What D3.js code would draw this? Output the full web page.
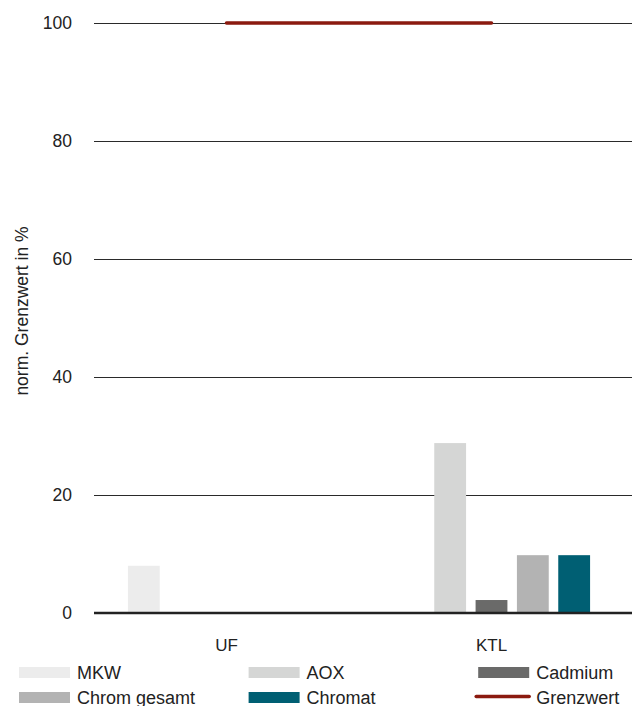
<!DOCTYPE html>
<html lang="de">
<head>
    <meta charset="UTF-8">
    <title>Grenzwerte UF / KTL</title>
    <script src="https://d3js.org/d3.v7.min.js"></script>
    <style>
        body { margin: 0; background: #fff; font-family: "Liberation Sans", Arial, sans-serif; }
        .tick-label { font-size: 17.5px; fill: #222; }
        .lbl { fill: #222; }
        .grid { shape-rendering: crispEdges; }
    </style>
</head>
<body>
    <svg id="chart" width="632" height="706"></svg>
    <script>
        const categories = ["UF", "KTL"];
        const series = ["MKW", "AOX", "Cadmium", "Chrom gesamt", "Chromat"];
        const colors = ["#ececec", "#d5d6d5", "#6a6a69", "#b3b3b3", "#005f73"];
        const values = {
            "UF":  [8, 0, 0, 0, 0],
            "KTL": [0, 28.8, 2.2, 9.8, 9.8]
        };
        const grenzwert = [100, 100];
        const yTicks = [0, 20, 40, 60, 80, 100];

        const svg = d3.select("#chart");

        const x0 = d3.scaleBand().domain(categories).range([94, 624])
                     .paddingInner(0.256).paddingOuter(0.128);
        const x1 = d3.scaleBand().domain(series).range([0, x0.bandwidth()])
                     .paddingInner(0.23).paddingOuter(0);
        const y = d3.scaleLinear().domain([0, 100]).range([613, 23]);

        // gridlines
        svg.append("g").selectAll("line")
           .data(yTicks.filter(d => d > 0))
           .enter().append("line")
           .attr("class", "grid")
           .attr("x1", 94).attr("x2", 632)
           .attr("y1", d => y(d)).attr("y2", d => y(d))
           .attr("stroke", "#2a2a2a").attr("stroke-width", 1);

        // tick labels
        svg.append("g").selectAll("text")
           .data(yTicks)
           .enter().append("text")
           .attr("class", "tick-label")
           .attr("x", 72)
           .attr("y", d => y(d))
           .attr("dy", "0.35em")
           .attr("text-anchor", "end")
           .text(d => d);

        // bars
        const groups = svg.append("g").selectAll("g")
           .data(categories)
           .enter().append("g")
           .attr("transform", d => `translate(${x0(d)},0)`);

        groups.selectAll("rect")
           .data(c => series.map((s, i) => ({s: s, v: values[c][i], c: colors[i]})).filter(d => d.v > 0))
           .enter().append("rect")
           .attr("x", d => x1(d.s))
           .attr("y", d => y(d.v))
           .attr("width", x1.bandwidth())
           .attr("height", d => y(0) - y(d.v))
           .attr("fill", d => d.c);

        // zero axis
        svg.append("line")
           .attr("x1", 94).attr("x2", 632)
           .attr("y1", y(0)).attr("y2", y(0))
           .attr("stroke", "#222").attr("stroke-width", 2.5);

        // Grenzwert line
        const line = d3.line()
           .x((d, i) => x0(categories[i]) + x0.bandwidth() / 2)
           .y(d => y(d));
        svg.append("path")
           .datum(grenzwert)
           .attr("d", line)
           .attr("fill", "none")
           .attr("stroke", "#8b1a0f")
           .attr("stroke-width", 3.5)
           .attr("stroke-linecap", "round");

        // category labels
        svg.append("g").selectAll("text")
           .data(categories)
           .enter().append("text")
           .attr("class", "lbl")
           .attr("x", d => x0(d) + x0.bandwidth() / 2)
           .attr("y", 651)
           .attr("text-anchor", "middle")
           .attr("font-size", 17)
           .text(d => d);

        // y axis title
        svg.append("text")
           .attr("class", "lbl")
           .attr("transform", "translate(28,311) rotate(-90)")
           .attr("text-anchor", "middle")
           .attr("font-size", 17.5)
           .text("norm. Grenzwert in %");

        // legend
        const legendItems = series.map((s, i) => ({name: s, color: colors[i], type: "rect"}))
              .concat([{name: "Grenzwert", color: "#8b1a0f", type: "line"}]);
        const legend = svg.append("g").selectAll("g")
           .data(legendItems)
           .enter().append("g")
           .attr("transform", (d, i) => `translate(${19 + (i % 3) * 229.6},${i < 3 ? 667 : 692})`);

        legend.filter(d => d.type === "rect").append("rect")
           .attr("width", 51).attr("height", 11)
           .attr("fill", d => d.color);
        legend.filter(d => d.type === "line").append("line")
           .attr("x1", -2).attr("x2", 51).attr("y1", 4.5).attr("y2", 4.5)
           .attr("stroke", d => d.color).attr("stroke-width", 3.5)
           .attr("stroke-linecap", "round");

        legend.append("text")
           .attr("class", "lbl")
           .attr("x", 58)
           .attr("y", 11.8)
           .attr("font-size", 18)
           .text(d => d.name);
    </script>
</body>
</html>
